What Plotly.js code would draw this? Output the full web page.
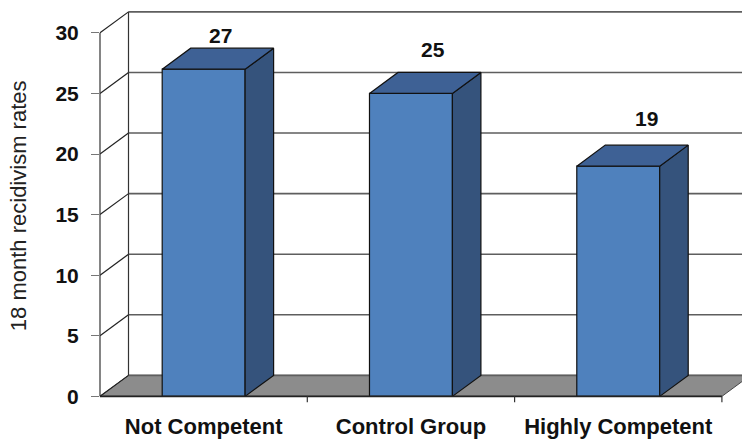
<!DOCTYPE html>
<html>
<head>
<meta charset="utf-8">
<script src="https://cdn.plot.ly/plotly-3.0.1.min.js"></script>
<style>
  html, body { margin: 0; padding: 0; background: #ffffff; }
  #chart { width: 742px; height: 439px; }
</style>
</head>
<body>
<div id="chart"></div>
<script>
// Recidivism by competence group
const categories = ['Not Competent', 'Control Group', 'Highly Competent'];
const rates = [27, 25, 19];
const yTicks = [0, 5, 10, 15, 20, 25, 30];
const yTitle = '18 month recidivism rates';

// Geometry of the pseudo-3D box (pixels)
const W = 742, H = 439;
const PLOT_L = 100, PLOT_T = 5.4, PLOT_B = 38.7;
const PX_PER_CAT = 207.3;
const Y_MIN = -0.3, Y_MAX = 32.3;
const PX_PER_UNIT = (H - PLOT_T - PLOT_B) / (Y_MAX - Y_MIN);
const DEPTH_X_PX = 28.5, DEPTH_Y_PX = 21;
const dx = DEPTH_X_PX / PX_PER_CAT;     // depth offset in x units
const dy = DEPTH_Y_PX / PX_PER_UNIT;    // depth offset in y units
const X_MIN = -0.5, X_MAX = X_MIN + (W - PLOT_L) / PX_PER_CAT;
const HALF = 0.2;                       // half bar width (category units)

// label placement above each bar top (pixels)
const labelShiftX = [16.5, 22.3, 28.6];
const labelShiftY = [33.7, 43.5, 47.6];

const FRONT = '#4F81BD', SIDE = '#35537C', TOP = '#3E6195';
const FONT = 'Liberation Sans, Arial, Helvetica, sans-serif';
const xs = categories.map((_, i) => i);

const traces = [];
// front faces
traces.push({
  type: 'bar', x: xs, y: rates, width: HALF * 2,
  marker: { color: FRONT, line: { color: '#111', width: 1.2 } },
  hoverinfo: 'skip', showlegend: false
});
// side and top faces
rates.forEach((v, i) => {
  traces.push({
    type: 'scatter', mode: 'lines', fill: 'toself', fillcolor: SIDE,
    x: [i + HALF, i + HALF + dx, i + HALF + dx, i + HALF, i + HALF],
    y: [0, dy, v + dy, v, 0],
    line: { color: '#111', width: 1.2 }, hoverinfo: 'skip', showlegend: false
  });
  traces.push({
    type: 'scatter', mode: 'lines', fill: 'toself', fillcolor: TOP,
    x: [i - HALF, i + HALF, i + HALF + dx, i - HALF + dx, i - HALF],
    y: [v, v, v + dy, v + dy, v],
    line: { color: '#111', width: 1.2 }, hoverinfo: 'skip', showlegend: false
  });
});

const shapes = [];
// floor
shapes.push({
  type: 'path', layer: 'below', xref: 'x', yref: 'y',
  path: `M ${X_MIN},0 L ${categories.length - 0.5},0 L ${categories.length - 0.5 + dx},${dy} L ${X_MIN + dx},${dy} Z`,
  fillcolor: '#8C8C8C', line: { color: '#444', width: 1 }
});
// back wall gridlines and side wall diagonals
yTicks.forEach(t => {
  shapes.push({
    type: 'line', layer: 'below', xref: 'x', yref: 'y',
    x0: X_MIN + dx, x1: X_MAX + 1, y0: t + dy, y1: t + dy,
    line: { color: '#5E5E5E', width: 1.6 }
  });
  shapes.push({
    type: 'line', layer: 'below', xref: 'x', yref: 'y',
    x0: X_MIN, x1: X_MIN + dx, y0: t, y1: t + dy,
    line: { color: '#222', width: 1.2 }
  });
});
// back wall left edge
shapes.push({
  type: 'line', layer: 'below', xref: 'x', yref: 'y',
  x0: X_MIN + dx, x1: X_MIN + dx, y0: dy, y1: yTicks[yTicks.length - 1] + dy,
  line: { color: '#333', width: 1.2 }
});
// front vertical axis line
shapes.push({
  type: 'line', layer: 'above', xref: 'paper', yref: 'y',
  x0: 0, x1: 0, y0: 0, y1: yTicks[yTicks.length - 1],
  line: { color: '#333', width: 1.2 }
});
// front floor edge
shapes.push({
  type: 'line', layer: 'above', xref: 'x', yref: 'y',
  x0: X_MIN, x1: categories.length - 0.5, y0: 0, y1: 0,
  line: { color: '#222', width: 1.8 }
});
// category dividers below the floor edge
const plotH = H - PLOT_T - PLOT_B;
const zeroPaper = (0 - Y_MIN) / (Y_MAX - Y_MIN);
for (let i = 0; i < categories.length; i++) {
  shapes.push({
    type: 'line', layer: 'above', xref: 'x', yref: 'paper',
    x0: i + 0.5, x1: i + 0.5, y0: zeroPaper, y1: zeroPaper - 6 / plotH,
    line: { color: '#333', width: 1.2 }
  });
}

const annotations = rates.map((v, i) => ({
  xref: 'x', yref: 'y', x: i, y: v, text: String(v),
  xshift: labelShiftX[i], yshift: labelShiftY[i],
  xanchor: 'center', yanchor: 'middle', showarrow: false,
  font: { family: FONT, size: 21, color: '#111', weight: 'bold' }
}));
annotations.push({
  xref: 'paper', yref: 'paper',
  x: (18 - PLOT_L) / (W - PLOT_L), y: (H - PLOT_B - 206.5) / plotH,
  text: yTitle, textangle: -90, showarrow: false,
  xanchor: 'center', yanchor: 'middle',
  font: { family: FONT, size: 22, color: '#222' }
});

const layout = {
  width: W, height: H,
  margin: { l: PLOT_L, r: 0, t: PLOT_T, b: PLOT_B, pad: 0 },
  paper_bgcolor: '#ffffff', plot_bgcolor: '#ffffff',
  showlegend: false,
  xaxis: {
    range: [X_MIN, X_MAX], tickvals: xs, ticktext: categories,
    showgrid: false, zeroline: false, showline: false, ticks: '',
    ticklabelstandoff: 11,
    tickfont: { family: FONT, size: 22, color: '#111', weight: 'bold' },
    fixedrange: true
  },
  yaxis: {
    range: [Y_MIN, Y_MAX], tickvals: yTicks,
    showgrid: false, zeroline: false, showline: false,
    ticks: 'outside', ticklen: 8, tickcolor: '#777', tickwidth: 1,
    ticklabelstandoff: 8,
    tickfont: { family: FONT, size: 21, color: '#111', weight: 'bold' },
    fixedrange: true
  },
  shapes: shapes,
  annotations: annotations
};

Plotly.newPlot('chart', traces, layout, { staticPlot: true, displayModeBar: false });
</script>
</body>
</html>
